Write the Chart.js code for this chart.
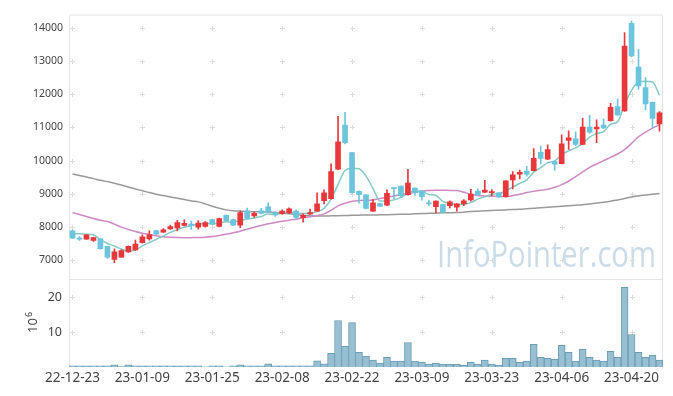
<!DOCTYPE html>
<html>
<head>
<meta charset="utf-8">
<script src="https://cdn.jsdelivr.net/npm/chart.js@4.4.1/dist/chart.umd.min.js"></script>
<style>
  html, body { margin: 0; padding: 0; background: #fff; }
</style>
</head>
<body>
<canvas id="stockchart" width="673" height="396"></canvas>
<script>
// trading days shown on the x axis
var dates = [
  '22-12-23','22-12-26','22-12-27','22-12-28','22-12-29',
  '23-01-02','23-01-03','23-01-04','23-01-05','23-01-06','23-01-09','23-01-10','23-01-11','23-01-12','23-01-13',
  '23-01-16','23-01-17','23-01-18','23-01-19','23-01-20','23-01-25','23-01-26','23-01-27','23-01-30','23-01-31',
  '23-02-01','23-02-02','23-02-03','23-02-06','23-02-07','23-02-08','23-02-09','23-02-10','23-02-13','23-02-14',
  '23-02-15','23-02-16','23-02-17','23-02-20','23-02-21','23-02-22','23-02-23','23-02-24','23-02-27','23-02-28',
  '23-03-02','23-03-03','23-03-06','23-03-07','23-03-08','23-03-09','23-03-10','23-03-13','23-03-14','23-03-15',
  '23-03-16','23-03-17','23-03-20','23-03-21','23-03-22','23-03-23','23-03-24','23-03-27','23-03-28','23-03-29',
  '23-03-30','23-03-31','23-04-03','23-04-04','23-04-05','23-04-06','23-04-07','23-04-10','23-04-11','23-04-12',
  '23-04-13','23-04-14','23-04-17','23-04-18','23-04-19','23-04-20','23-04-21','23-04-24','23-04-25','23-04-26'
];

var opens = [7890,7660,7640,7600,7650,7420,7030,7100,7255,7315, 7530,7650,7900,7850,7950,7980,8050,8090,8000,8020,
  8230,8025,8355,8225,8060,8490,8340,8490,8615,8432, 8403,8432,8483,8284,8394,8483,8800,8857,9747,11073,
  10242,9080,8976,8483,8710,8661,9180,9234,8976,9174, 9090,8730,8620,8680,8650,8600,8700,8818,9085,9055,
  9040,9035,8916,9420,9590,9690,9700,10250,10044,9970, 9910,10607,10657,10489,11013,10954,11073,11200,11627,11497,
  14128,12814,12200,11755,11102];
var highs = [7920,7720,7780,7700,7660,7430,7345,7315,7440,7610, 7770,7890,7910,7960,8060,8205,8220,8180,8200,8170,
  8240,8270,8370,8240,8490,8575,8460,8570,8735,8470, 8520,8580,8520,8400,8542,9035,9120,9905,11330,11450,
  10250,9090,8990,8839,8720,9124,9185,9240,9740,9180, 9095,8800,8790,8690,8790,8710,8830,9136,9150,9412,
  9130,9040,9400,9670,9720,9827,10360,10440,10479,9980, 10776,10900,10865,11271,11360,11230,11260,11725,11853,13852,
  14196,13347,12496,11760,11479];
var lows = [7660,7600,7630,7570,7340,7060,6930,7090,7240,7300, 7520,7610,7780,7840,7930,7890,8040,7930,7940,8000,
  8080,8010,8190,8050,7985,8250,8300,8400,8450,8320, 8380,8410,8250,8150,8380,8470,8700,8840,9730,10500,
  9020,8720,8550,8470,8620,8650,8857,8900,8960,8960, 8810,8650,8433,8430,8580,8483,8650,8780,8960,9040,
  8950,8900,8900,9150,9450,9530,9690,9900,10030,9717, 9900,10340,10450,10480,10820,10539,10970,11190,11360,11480,
  13120,12150,11527,11000,10885];
var closes = [7670,7640,7770,7690,7350,7100,7255,7295,7424,7490, 7710,7770,7790,7920,8020,8140,8115,8045,8120,8140,
  8090,8260,8195,8060,8442,8260,8418,8412,8450,8365, 8483,8551,8294,8355,8442,8700,9030,9675,10568,10539,
  9035,8976,8560,8730,8631,9020,9160,8945,9322,9035, 8916,8700,8785,8442,8759,8700,8790,8996,8966,9115,
  9060,8907,9392,9570,9650,9590,10073,10064,10330,9895, 10509,10687,10489,11013,10855,11013,10984,11607,11378,13445,
  13149,12250,11704,11271,11440];

// moving average lines
var ma5 = [7800,7800,7790,7770,7624,7510,7433,7338,7285,7313, 7435,7538,7637,7736,7842,7928,7997,8048,8088,8112,
  8102,8131,8161,8149,8209,8243,8275,8318,8396,8381, 8426,8452,8429,8410,8425,8468,8564,8840,9283,9702,
  9769,9759,9536,9168,8786,8783,8820,8897,9016,9096, 9076,8984,8952,8776,8720,8677,8695,8737,8842,8913,
  8985,9009,9088,9209,9316,9422,9655,9789,9941,9990, 10174,10297,10382,10519,10711,10811,10871,11094,11167,11685,
  12113,12366,12385,12364,11963];
var ma20 = [8440,8380,8320,8260,8210,8170,8090,8000,7930,7870, 7820,7780,7740,7710,7700,7690,7680,7685,7690,7700,
  7720,7750,7790,7830,7880,7940,8000,8050,8100,8140, 8180,8210,8240,8280,8310,8350,8400,8510,8640,8720,
  8780,8800,8810,8820,8860,8900,8940,8980,9010,9050, 9080,9100,9110,9110,9105,9100,9050,8990,8950,8940,
  8930,8920,8920,8950,8990,9040,9080,9110,9140,9200, 9280,9380,9520,9660,9800,9900,10000,10100,10200,10330,
  10520,10720,10860,10980,11080];
var ma60 = [9600,9555,9510,9460,9410,9370,9320,9265,9210,9150, 9095,9040,8990,8950,8910,8870,8830,8790,8760,8700,
  8630,8570,8520,8490,8480,8470,8465,8460,8450,8440, 8420,8400,8380,8360,8340,8335,8335,8340,8345,8350,
  8355,8360,8365,8365,8370,8375,8380,8385,8390,8400, 8410,8415,8420,8430,8435,8440,8450,8470,8480,8490,
  8500,8510,8520,8530,8540,8555,8570,8585,8600,8615, 8630,8645,8660,8675,8700,8725,8750,8780,8820,8860,
  8910,8940,8965,8990,9010];

// volume in millions of shares
var volumes = [0.3,0.3,0.3,0.3,0.3,0.3,0.65,0.1,0.6,0.3, 0.3,0.3,0.3,0.3,0.3,0.3,0.3,0.3,0.3,0.05,
  0.3,0.3,0.05,0.3,0.6,0.3,0.3,0.3,0.9,0.3, 0.3,0.3,0.3,0.3,0.3,1.8,0.9,3.9,13.3,5.9,
  12.7,4.2,3.1,2.0,1.1,2.8,1.7,1.7,7.0,1.7, 1.4,0.85,1.1,0.85,0.85,0.85,0.55,1.4,0.85,2.0,
  0.85,0.55,2.5,2.5,1.4,1.7,6.5,2.8,2.5,2.25, 6.2,4.2,1.7,5.1,2.8,2.0,1.7,4.5,2.8,22.8,
  9.3,4.2,2.8,3.4,2.0];

// axis ticks
var priceTicks = [7000, 8000, 9000, 10000, 11000, 12000, 13000, 14000];
var volumeTicks = [10, 20];

var upColor = '#e8383c';
var downColor = '#6cc4dd';

var candleColors = closes.map(function(c, i) { return c >= opens[i] ? upColor : downColor; });
var wickData = lows.map(function(l, i) { return [l, highs[i]]; });
var bodyData = opens.map(function(o, i) { return [o, closes[i]]; });

// frame, little grid crosses, watermark and the 10^6 unit label
var chartDecor = {
  id: 'chartDecor',
  beforeDatasetsDraw: function(chart) {
    var c = chart.ctx, a = chart.chartArea;
    var xs = chart.scales.x, py = chart.scales.y, vy = chart.scales.vol;
    c.save();

    // watermark
    c.font = "36px 'Open Sans'";
    c.fillStyle = '#cbdce8';
    c.textBaseline = 'alphabetic';
    var w = c.measureText('InfoPointer.com').width;
    c.translate(437, 267);
    c.scale(219 / w, 1);
    c.fillText('InfoPointer.com', 0, 0);
    c.restore();
    c.save();

    c.strokeStyle = '#e4e4e4';
    c.lineWidth = 1;
    c.beginPath();
    c.moveTo(a.left + 0.5, a.bottom);
    c.lineTo(a.left + 0.5, a.top + 0.5);
    c.lineTo(a.right - 0.5, a.top + 0.5);
    c.lineTo(a.right - 0.5, a.bottom);
    var sep = Math.round(vy.top) + 0.5;
    c.moveTo(a.left, sep);
    c.lineTo(a.right, sep);
    c.stroke();

    c.strokeStyle = '#dcdcdc';
    c.beginPath();
    for (var i = 0; i < dates.length; i += 10) {
      var px = Math.round(xs.getPixelForValue(i)) + 0.5;
      var ys = [];
      priceTicks.forEach(function(t) { ys.push(py.getPixelForValue(t)); });
      volumeTicks.forEach(function(t) { ys.push(vy.getPixelForValue(t)); });
      ys.forEach(function(yv) {
        var yy = Math.round(yv) + 0.5;
        c.moveTo(px - 2.5, yy); c.lineTo(px + 2.5, yy);
        c.moveTo(px, yy - 2.5); c.lineTo(px, yy + 2.5);
      });
    }
    c.stroke();

    // unit label for the volume axis
    c.fillStyle = '#444';
    c.translate(37, 333);
    c.rotate(-Math.PI / 2);
    c.font = "13px 'Noto Sans'";
    c.fillText('10', 0, 0);
    c.font = "9px 'Noto Sans'";
    c.fillText('6', 16, -5);
    c.restore();
  }
};

var ctx = document.getElementById('stockchart').getContext('2d');
var stockchart = new Chart(ctx, {
  type: 'bar',
  data: {
    labels: dates,
    datasets: [
      {
        type: 'line', label: 'MA5', data: ma5, yAxisID: 'y', order: 1,
        borderColor: '#86cbc3', borderWidth: 1.5, pointRadius: 0, fill: false,
        cubicInterpolationMode: 'monotone'
      },
      {
        type: 'line', label: 'MA20', data: ma20, yAxisID: 'y', order: 1,
        borderColor: '#cf8ac4', borderWidth: 1.5, pointRadius: 0, fill: false,
        cubicInterpolationMode: 'monotone'
      },
      {
        type: 'line', label: 'MA60', data: ma60, yAxisID: 'y', order: 1,
        borderColor: '#9a9a9a', borderWidth: 1.5, pointRadius: 0, fill: false,
        cubicInterpolationMode: 'monotone'
      },
      {
        label: 'wick', data: wickData, yAxisID: 'y', order: 0, grouped: false,
        backgroundColor: candleColors, barThickness: 1, borderWidth: 0
      },
      {
        label: 'body', data: bodyData, yAxisID: 'y', order: 0, grouped: false,
        backgroundColor: candleColors, barThickness: 5, borderWidth: 0, minBarLength: 1
      },
      {
        label: 'volume', data: volumes, yAxisID: 'vol', order: 2, grouped: false,
        backgroundColor: '#98bfd1', borderColor: '#6a9db5', borderWidth: 1,
        barPercentage: 1, categoryPercentage: 1
      }
    ]
  },
  options: {
    responsive: false,
    animation: false,
    layout: { padding: { top: 10, right: 10, left: 0, bottom: 0 } },
    plugins: { legend: { display: false }, tooltip: { enabled: false } },
    scales: {
      x: {
        type: 'category',
        offset: true,
        grid: { display: false, drawTicks: false },
        border: { display: false },
        ticks: {
          autoSkip: false, maxRotation: 0, padding: 3,
          color: '#444', font: { family: 'Noto Sans', size: 13.5 },
          callback: function(v, i) { return i % 10 === 0 ? dates[i] : ''; }
        },
        afterFit: function(s) { s.height = 29; }
      },
      vol: {
        position: 'left', stack: 'panels', stackWeight: 1,
        min: 0, max: 25.2,
        grid: { display: false, drawTicks: false },
        border: { display: false },
        ticks: { padding: 7, color: '#444', font: { family: 'Noto Sans', size: 12.5 } },
        afterBuildTicks: function(s) { s.ticks = volumeTicks.map(function(v) { return { value: v }; }); },
        afterFit: function(s) { s.width = 69; }
      },
      y: {
        position: 'left', stack: 'panels', stackWeight: 3,
        min: 6445, max: 14395,
        grid: { display: false, drawTicks: false },
        border: { display: false },
        ticks: {
          padding: 6, color: '#444', font: { family: 'Noto Sans', size: 10.5 },
          callback: function(v) { return v; }
        },
        afterBuildTicks: function(s) { s.ticks = priceTicks.map(function(v) { return { value: v }; }); },
        afterFit: function(s) { s.width = 69; }
      }
    }
  },
  plugins: [chartDecor]
});
</script>
</body>
</html>
